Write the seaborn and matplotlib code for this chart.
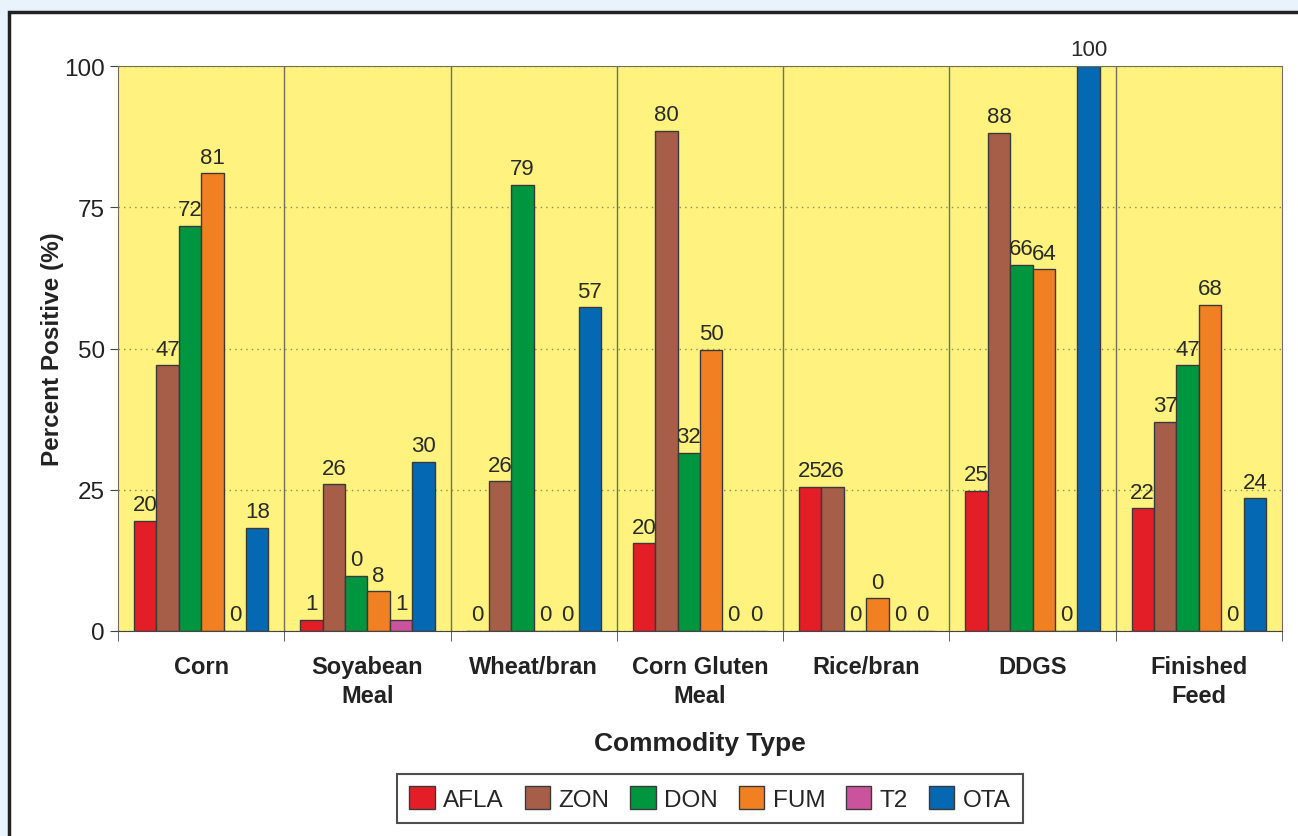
import pandas as pd
import matplotlib.pyplot as plt
import matplotlib.patches as mpatches
import seaborn as sns

commodities = ['Corn', 'Soyabean\nMeal', 'Wheat/bran', 'Corn Gluten\nMeal', 'Rice/bran', 'DDGS', 'Finished\nFeed']
toxins = ['AFLA', 'ZON', 'DON', 'FUM', 'T2', 'OTA']

# bar heights as drawn
afla = [19.5, 2, 0, 15.5, 25.5, 24.8, 21.7]
zon = [47, 26, 26.5, 88.5, 25.5, 88.2, 37]
don = [71.7, 9.8, 79, 31.5, 0, 64.8, 47]
fum = [81, 7, 0, 49.8, 5.8, 64, 57.7]
t2 = [0, 2, 0, 0, 0, 0, 0]
ota = [18.3, 30, 57.3, 0, 0, 100, 23.5]

# printed value labels (as shown on the chart)
afla_lbl = [20, 1, 0, 20, 25, 25, 22]
zon_lbl = [47, 26, 26, 80, 26, 88, 37]
don_lbl = [72, 0, 79, 32, 0, 66, 47]
fum_lbl = [81, 8, 0, 50, 0, 64, 68]
t2_lbl = [0, 1, 0, 0, 0, 0, 0]
ota_lbl = [18, 30, 57, 0, 0, 100, 24]

colors = ['#E31E26', '#A65E48', '#00953F', '#F08021', '#CB529C', '#0468B3']

heights = [afla, zon, don, fum, t2, ota]
labels = [afla_lbl, zon_lbl, don_lbl, fum_lbl, t2_lbl, ota_lbl]

df = pd.DataFrame({
    'Commodity': commodities * len(toxins),
    'Toxin': [t for t in toxins for _ in commodities],
    'Percent': [v for h in heights for v in h],
})

sns.set_style('ticks')
plt.rcParams['font.family'] = ['Liberation Sans', 'DejaVu Sans']

fig = plt.figure(figsize=(12.98, 8.37), dpi=100)
fig.patch.set_facecolor('#E9F3FB')
# white framed panel
fig.patches.append(mpatches.Rectangle((9 / 1298, -0.1), 1.2, 1 - 13 / 837 + 0.1,
                                      transform=fig.transFigure, facecolor='white',
                                      edgecolor='#222222', linewidth=2.5, zorder=-1))

ax = fig.add_axes([118 / 1298, 1 - 632 / 837, (1282 - 118) / 1298, (632 - 67) / 837])
ax.set_facecolor('#FFF27F')

sns.barplot(data=df, x='Commodity', y='Percent', hue='Toxin', order=commodities,
            hue_order=toxins, palette=dict(zip(toxins, colors)), saturation=1,
            width=0.81, edgecolor='#3a3a3a', linewidth=1, ax=ax, legend=False)

for cont, lbl in zip(ax.containers, labels):
    ax.bar_label(cont, labels=[str(v) for v in lbl], padding=4, fontsize=16, color='#2a2a2a')

ax.set_xlim(-0.5, len(commodities) - 0.5)
ax.set_ylim(0, 100)
ax.set_yticks([0, 25, 50, 75, 100])
ax.yaxis.grid(True, linestyle=(0, (1, 3)), color='#8c8a5c', linewidth=1)
ax.set_axisbelow(True)

for i in range(len(commodities) - 1):
    ax.axvline(i + 0.5, color='#707060', linewidth=1, zorder=0.5)

ax.set_xticks([i - 0.5 for i in range(len(commodities) + 1)], minor=True)
ax.tick_params(axis='x', which='minor', length=7, direction='out', color='#444444')
ax.tick_params(axis='x', which='major', length=0, pad=17, labelsize=17)
ax.tick_params(axis='y', length=6, direction='out', color='#444444', labelsize=17.5, labelcolor='#222222')
for t in ax.get_xticklabels():
    t.set_fontweight('bold')
    t.set_color('#222222')
    t.set_linespacing(1.35)

for s in ['top', 'right', 'left']:
    ax.spines[s].set_color('#707060')
    ax.spines[s].set_visible(True)
ax.spines['bottom'].set_color('#444444')

ax.set_xlabel('Commodity Type', fontsize=19, fontweight='bold', color='#222222', labelpad=17)
ax.set_ylabel('Percent Positive (%)', fontsize=17.5, fontweight='bold', color='#222222', labelpad=0)

handles = [mpatches.Patch(facecolor=c, edgecolor='#3a3a3a', label=t) for t, c in zip(toxins, colors)]
leg = fig.legend(handles=handles, loc='center', bbox_to_anchor=(0.547, 0.0445), ncol=6,
                 fontsize=17.5, frameon=True, fancybox=False, handlelength=1.05, handleheight=1.05,
                 handletextpad=0.35, columnspacing=0.85, borderpad=0.5)
leg.get_frame().set_edgecolor('#222222')
leg.get_frame().set_linewidth(1.5)

fig.savefig('out.png', dpi=100, facecolor=fig.get_facecolor())
